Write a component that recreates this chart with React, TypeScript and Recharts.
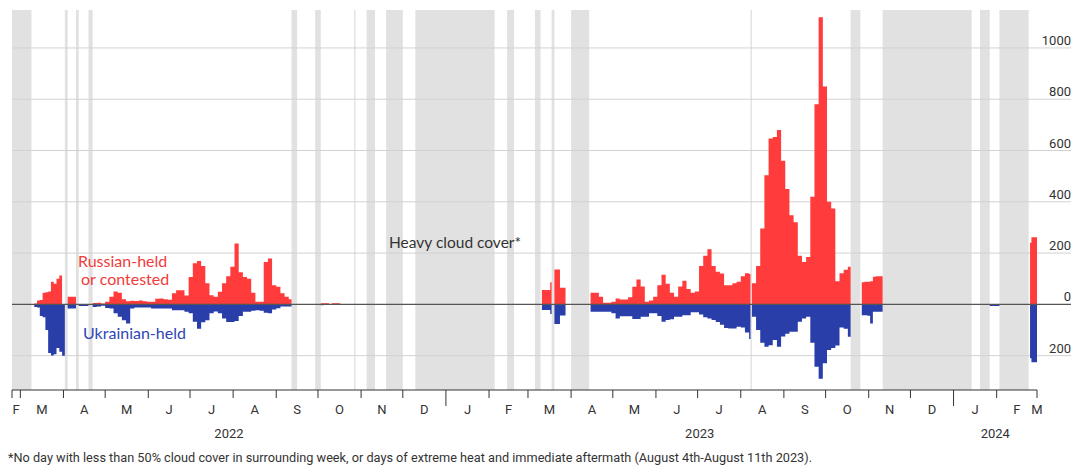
import { ComposedChart, Area, XAxis, YAxis, ReferenceArea, ReferenceLine } from "recharts";

const DAY0 = Date.UTC(2022, 2, 1);
const toDay = (s: string) => Math.round((Date.parse(s + "T00:00:00Z") - DAY0) / 86400000);

const domainStart = "2022-02-23";
const domainEnd = "2024-03-01";

// periods of heavy cloud cover (grey bands)
const cloudStarts = [
  "2022-02-23", "2022-04-02", "2022-04-10", "2022-04-19", "2022-09-12", "2022-09-29", "2022-10-27",
  "2022-11-05", "2022-11-19", "2022-12-10", "2023-02-14", "2023-03-06", "2023-03-18", "2023-04-01",
  "2023-08-08", "2023-10-19", "2023-11-11", "2024-01-20", "2024-02-03",
];
const cloudEnds = [
  "2022-03-09", "2022-04-04", "2022-04-12", "2022-04-22", "2022-09-16", "2022-10-03", "2022-10-28",
  "2022-11-11", "2022-12-01", "2023-02-05", "2023-02-19", "2023-03-10", "2023-03-20", "2023-04-14",
  "2023-08-09", "2023-10-26", "2024-01-14", "2024-01-27", "2024-02-24",
];

// clear spells with readings; values sampled every `step` days
const segmentStarts = [
  "2022-03-11", "2022-04-04", "2022-04-12", "2022-04-22", "2022-10-03", "2023-03-11", "2023-03-20",
  "2023-04-15", "2023-08-09", "2023-10-27", "2024-01-27", "2024-02-25",
];
const segmentEnds = [
  "2022-04-02", "2022-04-10", "2022-04-19", "2022-09-12", "2022-10-17", "2023-03-18", "2023-03-28",
  "2023-08-08", "2023-10-19", "2023-11-11", "2024-02-03", "2024-03-01",
];
const segmentSteps = [2, 6, 7, 3, 2, 2, 4, 3, 3, 2, 7, 1];

const russianHeld = [
  [3, 15, 17, 45, 47, 50, 88, 80, 100, 113, 0],
  [30],
  [0],
  [5, 6, 3, 10, 30, 50, 45, 20, 12, 14, 13, 15, 12, 10, 10, 22, 23, 20, 18, 43, 55, 55, 35, 107,
    160, 169, 150, 82, 36, 30, 49, 82, 110, 147, 237, 125, 107, 100, 45, 10, 10, 165, 179, 75, 69, 43, 30, 20],
  [4, 4, 4, 0, 4, 4, 4],
  [56, 56, 56, 86],
  [136, 65],
  [45, 45, 30, 6, 6, 10, 23, 19, 19, 28, 69, 97, 70, 10, 15, 30, 75, 115, 80, 45, 30, 70, 92, 60, 45,
    50, 150, 190, 215, 150, 127, 120, 75, 75, 82, 88, 110, 121, 118],
  [82, 150, 296, 504, 647, 653, 680, 560, 450, 348, 320, 190, 165, 185, 420, 780, 1120, 850, 400, 374,
    90, 121, 135, 147],
  [86, 88, 88, 90, 108, 110, 110, 110],
  [0],
  [240, 262, 262, 262, 262],
];

const ukrainianHeld = [
  [10, 12, 45, 50, 100, 190, 199, 195, 170, 185, 200],
  [16],
  [6],
  [10, 8, 5, 14, 16, 35, 48, 62, 75, 16, 12, 12, 12, 12, 16, 16, 16, 16, 16, 23, 23, 23, 29, 35,
    68, 95, 70, 62, 35, 28, 35, 55, 69, 69, 65, 45, 29, 29, 25, 23, 25, 33, 35, 20, 15, 8, 8, 8],
  [3, 0, 0, 0, 0, 0, 0],
  [22, 22, 22, 38],
  [77, 43],
  [29, 29, 29, 29, 29, 35, 55, 46, 46, 46, 57, 57, 48, 48, 35, 35, 45, 68, 61, 58, 48, 48, 42, 42, 31,
    31, 40, 50, 55, 61, 69, 80, 92, 94, 94, 87, 90, 110, 135],
  [48, 100, 150, 165, 159, 139, 165, 125, 115, 107, 107, 68, 55, 48, 150, 243, 290, 230, 178, 170,
    160, 90, 95, 126],
  [42, 42, 44, 75, 29, 29, 29, 29],
  [6],
  [210, 226, 226, 226, 226],
];

const monthLabels = ["F", "M", "A", "M", "J", "J", "A", "S", "O", "N", "D", "J", "F", "M", "A", "M", "J", "J", "A", "S", "O", "N", "D", "J", "F", "M"];
const yearLabels = ["2022", "2023", "2024"];
const yTicks = [-200, 0, 200, 400, 600, 800, 1000];

const RED = "#ff3b3b";
const BLUE = "#2a3eaa";
const FONT = "Roboto, 'Noto Sans', sans-serif";

const xMin = toDay(domainStart);
const xMax = toDay(domainEnd);
const clip = (d: number) => Math.min(xMax, Math.max(xMin, d));
const dayOfUTC = (y: number, m: number) => Math.round((Date.UTC(y, m, 1) - DAY0) / 86400000);

// month boundaries (Feb 2022 .. Apr 2024)
const monthStarts = monthLabels.map((_, i) => clip(dayOfUTC(2022, 1 + i)));
const monthEndsArr = monthLabels.map((_, i) => clip(dayOfUTC(2022, 2 + i)));
const boundaryTicks = Array.from(new Set([...monthStarts, ...monthEndsArr]));
const labelTicks = monthStarts.map((s, i) => (s + monthEndsArr[i]) / 2);
const yearStarts = yearLabels.map((y) => dayOfUTC(Number(y), 0));
const yearTicks = yearLabels.map((y) => (clip(dayOfUTC(Number(y), 0)) + clip(dayOfUTC(Number(y) + 1, 0))) / 2);

type Pt = { day: number; ru: number | null; ua: number | null };
const points: Pt[] = [];
segmentStarts.forEach((s, i) => {
  const start = toDay(s);
  const end = toDay(segmentEnds[i]);
  const step = segmentSteps[i];
  const ru = russianHeld[i];
  const ua = ukrainianHeld[i];
  ru.forEach((v, j) => points.push({ day: start + j * step, ru: v, ua: -ua[j] }));
  points.push({ day: end, ru: ru[ru.length - 1], ua: -ua[ua.length - 1] });
  points.push({ day: end, ru: null, ua: null });
});

const MonthTick = (props: any) => {
  const { x, y, payload } = props;
  const long = yearStarts.includes(payload.value);
  return <line x1={x} x2={x} y1={y} y2={y + (long ? 16 : 8)} stroke="#333" strokeWidth={1} />;
};

const ValueTick = (props: any) => {
  const { x, y, payload } = props;
  const v = payload.value;
  return (
    <g>
      <line x1={x} x2={x + 34} y1={y} y2={y} stroke={v === 0 ? "#555" : "#d2d2d2"} strokeWidth={v === 0 ? 1.3 : 1} />
      <text x={x + 34} y={y - 3} textAnchor="end" fontSize={13} fill="#333" fontFamily={FONT}>
        {Math.abs(v)}
      </text>
    </g>
  );
};

export default function App() {
  return (
    <div style={{ position: "absolute", left: 0, top: 0, width: 1088, height: 474, background: "#fff" }}>
      <ComposedChart width={1088} height={474} data={points} margin={{ top: 10, right: 0, left: 12, bottom: 32 }}>
        <XAxis
          dataKey="day"
          type="number"
          domain={[xMin, xMax]}
          allowDataOverflow
          ticks={boundaryTicks}
          interval={0}
          height={10}
          tickSize={0}
          tickMargin={0}
          tickLine={false}
          tick={<MonthTick />}
          axisLine={{ stroke: "#333" }}
        />
        <XAxis
          xAxisId="lbl"
          dataKey="day"
          type="number"
          domain={[xMin, xMax]}
          allowDataOverflow
          ticks={labelTicks}
          interval={0}
          height={22}
          tickSize={0}
          tickMargin={5}
          tickLine={false}
          axisLine={false}
          tickFormatter={(_v: number, i: number) => monthLabels[i]}
          tick={{ fill: "#333", fontSize: 13, fontFamily: FONT }}
        />
        <XAxis
          xAxisId="yr"
          dataKey="day"
          type="number"
          domain={[xMin, xMax]}
          allowDataOverflow
          ticks={yearTicks}
          interval={0}
          height={20}
          tickSize={0}
          tickMargin={7}
          tickLine={false}
          axisLine={false}
          tickFormatter={(_v: number, i: number) => yearLabels[i]}
          tick={{ fill: "#333", fontSize: 13, fontFamily: FONT }}
        />
        <YAxis
          orientation="right"
          type="number"
          domain={[-334, 1148]}
          allowDataOverflow
          ticks={yTicks}
          interval={0}
          width={51}
          tickSize={0}
          tickMargin={0}
          tickLine={false}
          axisLine={false}
          tick={<ValueTick />}
        />
        {cloudStarts.map((s, i) => (
          <ReferenceArea
            key={s}
            x1={toDay(s)}
            x2={toDay(cloudEnds[i])}
            fill="#e1e1e1"
            fillOpacity={1}
            stroke="none"
            zIndex={10}
          />
        ))}
        {yTicks.filter((t) => t !== 0).map((t) => (
          <ReferenceLine key={t} y={t} stroke="#d2d2d2" strokeWidth={1} zIndex={20} />
        ))}
        <Area
          dataKey="ru"
          type="stepAfter"
          baseValue={0}
          fill={RED}
          fillOpacity={1}
          stroke="none"
          isAnimationActive={false}
          dot={false}
          activeDot={false}
        />
        <Area
          dataKey="ua"
          type="stepAfter"
          baseValue={0}
          fill={BLUE}
          fillOpacity={1}
          stroke="none"
          isAnimationActive={false}
          dot={false}
          activeDot={false}
        />
        <ReferenceLine y={0} stroke="#555" strokeWidth={1.3} />
      </ComposedChart>
      <svg width={1088} height={474} style={{ position: "absolute", left: 0, top: 0, pointerEvents: "none" }}>
        <g fontFamily="Lato, 'Open Sans', sans-serif" fontSize={16}>
          <text x={78} y={267} fill="#f03c3c">Russian-held</text>
          <text x={81} y={284.5} fill="#f03c3c">or contested</text>
          <text x={83} y={339} fill="#2f45b5">Ukrainian-held</text>
          <text x={389} y={248} fill="#333" fontSize={15.5}>Heavy cloud cover*</text>
        </g>
        <text
          x={8}
          y={462}
          fontSize={12}
          fill="#333"
          fontFamily={FONT}
          textLength={804}
          lengthAdjust="spacingAndGlyphs"
        >
          *No day with less than 50% cloud cover in surrounding week, or days of extreme heat and immediate aftermath (August 4th-August 11th 2023).
        </text>
      </svg>
    </div>
  );
}
